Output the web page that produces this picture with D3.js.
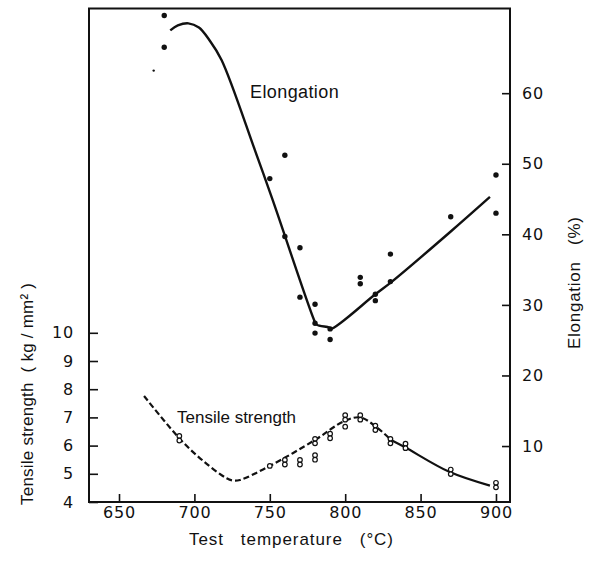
<!DOCTYPE html>
<html>
<head>
<meta charset="utf-8">
<script src="https://cdn.jsdelivr.net/npm/d3@7"></script>
<style>
  body { margin: 0; background: #fff; }
  text { fill: #111; }
</style>
</head>
<body>
<div id="chart"></div>
<script>
// tick values
const tempTicks = [650, 700, 750, 800, 850, 900];
const strengthTicks = [4, 5, 6, 7, 8, 9, 10];
const elongTicks = [10, 20, 30, 40, 50, 60];

// elongation measurements (temperature, %)
const elongTemp = [680, 680, 750, 760, 760, 770, 770, 780, 780, 780, 790, 790, 810, 810, 820, 820, 830, 830, 870, 900, 900];
const elongVal  = [71.0, 66.5, 47.9, 51.2, 39.7, 38.1, 31.1, 30.1, 27.4, 26.0, 26.6, 25.1, 33.9, 33.0, 31.5, 30.6, 37.2, 33.3, 42.5, 48.4, 43.0];
// stray speck near the top left
const elongStray = [[673, 63.2]];

// elongation fitted curve
const elongCurveTemp = [684, 689, 696, 703, 710, 718, 740, 752, 779.3, 781, 789.4, 790.6, 820, 831, 870, 896];
const elongCurveVal  = [68.9, 69.6, 69.9, 69.3, 67.5, 64.7, 52.0, 44.8, 27.9, 27.2, 26.8, 26.6, 31.5, 33.3, 40.4, 45.3];

// tensile strength measurements (temperature, kg/mm2)
const tensTemp = [690, 690, 750, 760, 760, 770, 770, 780, 780, 780, 780, 790, 790, 800, 800, 800, 810, 810, 820, 820, 830, 830, 840, 840, 870, 870, 900, 900];
const tensVal  = [6.34, 6.18, 5.28, 5.49, 5.33, 5.49, 5.33, 6.24, 6.08, 5.66, 5.50, 6.42, 6.26, 7.08, 6.92, 6.67, 7.08, 6.92, 6.71, 6.55, 6.24, 6.08, 6.07, 5.91, 5.15, 4.99, 4.68, 4.52];

// tensile strength curve: dashed part then solid part
const tensDashTemp = [666.6, 691, 706, 721.4, 725.8, 730.2, 750, 780, 798.7, 809.8, 820.4, 830.4];
const tensDashVal  = [7.76, 6.2, 5.45, 4.84, 4.76, 4.78, 5.28, 6.2, 6.85, 7.0, 6.67, 6.2];
const tensSolidTemp = [830.4, 839.7, 869, 896];
const tensSolidVal  = [6.2, 5.94, 5.07, 4.58];

const W = 593, H = 565;
const plotLeft = 89, plotRight = 510, plotTop = 8.5, plotBottom = 502;

const svg = d3.select("#chart").append("svg")
    .attr("width", W)
    .attr("height", H)
    .style("font-family", "'Liberation Sans', Arial, sans-serif");

const x = d3.scaleLinear().domain([630.1, 909.3]).range([plotLeft, plotRight]);
const yS = d3.scaleLinear().domain([4, 21.5]).range([plotBottom, plotTop]);
const yE = d3.scaleLinear().domain([2.07, 72.0]).range([plotBottom, plotTop]);

// axes (ticks point inward)
const xAxis = svg.append("g")
    .attr("transform", `translate(0,${plotBottom})`)
    .call(d3.axisBottom(x).tickValues(tempTicks).tickSize(-8).tickPadding(5));

const lAxis = svg.append("g")
    .attr("transform", `translate(${plotLeft},0)`)
    .call(d3.axisLeft(yS).tickValues(strengthTicks).tickSize(-9).tickPadding(15));

const rAxis = svg.append("g")
    .attr("transform", `translate(${plotRight},0)`)
    .call(d3.axisRight(yE).tickValues(elongTicks).tickSize(-8).tickPadding(12));

[xAxis, lAxis, rAxis].forEach(g => {
    g.select(".domain").remove();
    g.selectAll(".tick line").attr("stroke", "#111").attr("stroke-width", 1.6);
    g.selectAll(".tick text")
        .style("font-family", "'DejaVu Sans', sans-serif")
        .style("font-size", "16px")
        .style("letter-spacing", "0.8px")
        .attr("fill", "#111");
});

// frame
svg.append("rect")
    .attr("x", plotLeft)
    .attr("y", plotTop)
    .attr("width", plotRight - plotLeft)
    .attr("height", plotBottom - plotTop)
    .attr("fill", "none")
    .attr("stroke", "#111")
    .attr("stroke-width", 2);

// elongation curve
const lineE = d3.line()
    .x(d => x(d[0]))
    .y(d => yE(d[1]))
    .curve(d3.curveCatmullRom.alpha(0.5));

svg.append("path")
    .datum(elongCurveTemp.map((t, i) => [t, elongCurveVal[i]]))
    .attr("d", lineE)
    .attr("fill", "none")
    .attr("stroke", "#111")
    .attr("stroke-width", 2.4);

svg.selectAll(".edot")
    .data(elongTemp.map((t, i) => [t, elongVal[i]]))
    .enter()
    .append("circle")
    .attr("class", "edot")
    .attr("cx", d => x(d[0]))
    .attr("cy", d => yE(d[1]))
    .attr("r", 2.7)
    .attr("fill", "#111");

svg.selectAll(".stray")
    .data(elongStray)
    .enter()
    .append("circle")
    .attr("class", "stray")
    .attr("cx", d => x(d[0]))
    .attr("cy", d => yE(d[1]))
    .attr("r", 1.2)
    .attr("fill", "#111");

// tensile strength curve
const lineS = d3.line()
    .x(d => x(d[0]))
    .y(d => yS(d[1]))
    .curve(d3.curveCatmullRom.alpha(0.5));

svg.append("path")
    .datum(tensDashTemp.map((t, i) => [t, tensDashVal[i]]))
    .attr("d", lineS)
    .attr("fill", "none")
    .attr("stroke", "#111")
    .attr("stroke-width", 2.2)
    .attr("stroke-dasharray", "6,3");

svg.append("path")
    .datum(tensSolidTemp.map((t, i) => [t, tensSolidVal[i]]))
    .attr("d", lineS)
    .attr("fill", "none")
    .attr("stroke", "#111")
    .attr("stroke-width", 2.2);

svg.selectAll(".sdot")
    .data(tensTemp.map((t, i) => [t, tensVal[i]]))
    .enter()
    .append("circle")
    .attr("class", "sdot")
    .attr("cx", d => x(d[0]))
    .attr("cy", d => yS(d[1]))
    .attr("r", 2.3)
    .attr("fill", "#fff")
    .attr("stroke", "#111")
    .attr("stroke-width", 1.2);

// in-plot labels
svg.append("text")
    .attr("x", 250)
    .attr("y", 98)
    .style("font-size", "18px")
    .style("letter-spacing", "0.4px")
    .text("Elongation");

svg.append("text")
    .attr("x", 177)
    .attr("y", 423)
    .style("font-size", "17px")
    .text("Tensile strength");

// axis titles
svg.append("text")
    .attr("x", 189)
    .attr("y", 545)
    .attr("textLength", 204)
    .attr("lengthAdjust", "spacing")
    .style("font-size", "17px")
    .style("white-space", "pre")
    .text("Test   temperature   (°C)");

svg.append("text")
    .attr("transform", "translate(33,394) rotate(-90)")
    .attr("text-anchor", "middle")
    .attr("textLength", 222)
    .attr("lengthAdjust", "spacing")
    .style("font-size", "17px")
    .style("white-space", "pre")
    .text("Tensile strength  ( kg / mm² )");

svg.append("text")
    .attr("transform", "translate(580,283) rotate(-90)")
    .attr("text-anchor", "middle")
    .attr("textLength", 132)
    .attr("lengthAdjust", "spacing")
    .style("font-size", "17px")
    .style("white-space", "pre")
    .text("Elongation   (%)");
</script>
</body>
</html>
